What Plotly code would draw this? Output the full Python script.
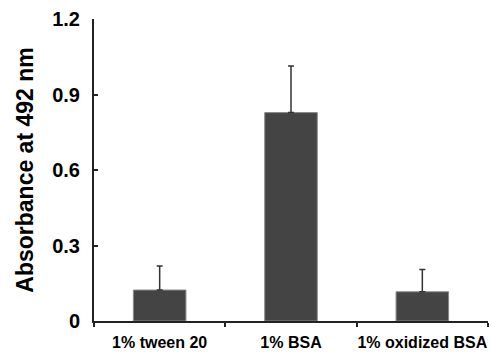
import plotly.graph_objects as go

categories = ["1% tween 20", "1% BSA", "1% oxidized BSA"]
absorbance = [0.123, 0.828, 0.116]
error_plus = [0.096, 0.185, 0.089]
y_ticks = [0, 0.3, 0.6, 0.9, 1.2]
y_tick_labels = ["0", "0.3", "0.6", "0.9", "1.2"]

fig = go.Figure()
fig.add_trace(go.Bar(
    x=categories, y=absorbance, width=0.4,
    marker=dict(color="#444444", line=dict(color="#888888", width=1)),
    error_y=dict(type="data", array=error_plus, symmetric=False,
                 arrayminus=[0, 0, 0], color="#333333", thickness=1.5, width=3),
))

font_family = "Liberation Sans, Arial, sans-serif"
fig.update_layout(
    width=491, height=354,
    margin=dict(l=94, r=3, t=19, b=33, autoexpand=False),
    paper_bgcolor="white", plot_bgcolor="white",
    showlegend=False,
    font=dict(family=font_family, color="black"),
)
fig.update_xaxes(
    type="category", tickson="boundaries", ticks="outside", ticklen=4,
    tickwidth=2, tickcolor="#222222", tickangle=0, automargin=False,
    showline=True, linecolor="#222222", linewidth=2,
    showgrid=False, zeroline=False,
    tickfont=dict(size=16, family=font_family, weight="bold"),
    ticklabelstandoff=6,
)
fig.update_yaxes(
    range=[0, 1.2], tickvals=y_ticks, ticktext=y_tick_labels,
    ticks="inside", ticklen=4, tickwidth=2, tickcolor="#222222",
    showline=True, linecolor="#222222", linewidth=2, automargin=False,
    showgrid=False, zeroline=False,
    tickfont=dict(size=20, family=font_family, weight="bold"),
    ticklabelstandoff=8,
    title=dict(text="Absorbance at 492 nm", standoff=12,
               font=dict(size=23, family=font_family, weight="bold")),
)
fig.write_html("out.html", config={"displayModeBar": False},
               post_script="document.body.style.margin='0';document.body.style.overflow='hidden';")
